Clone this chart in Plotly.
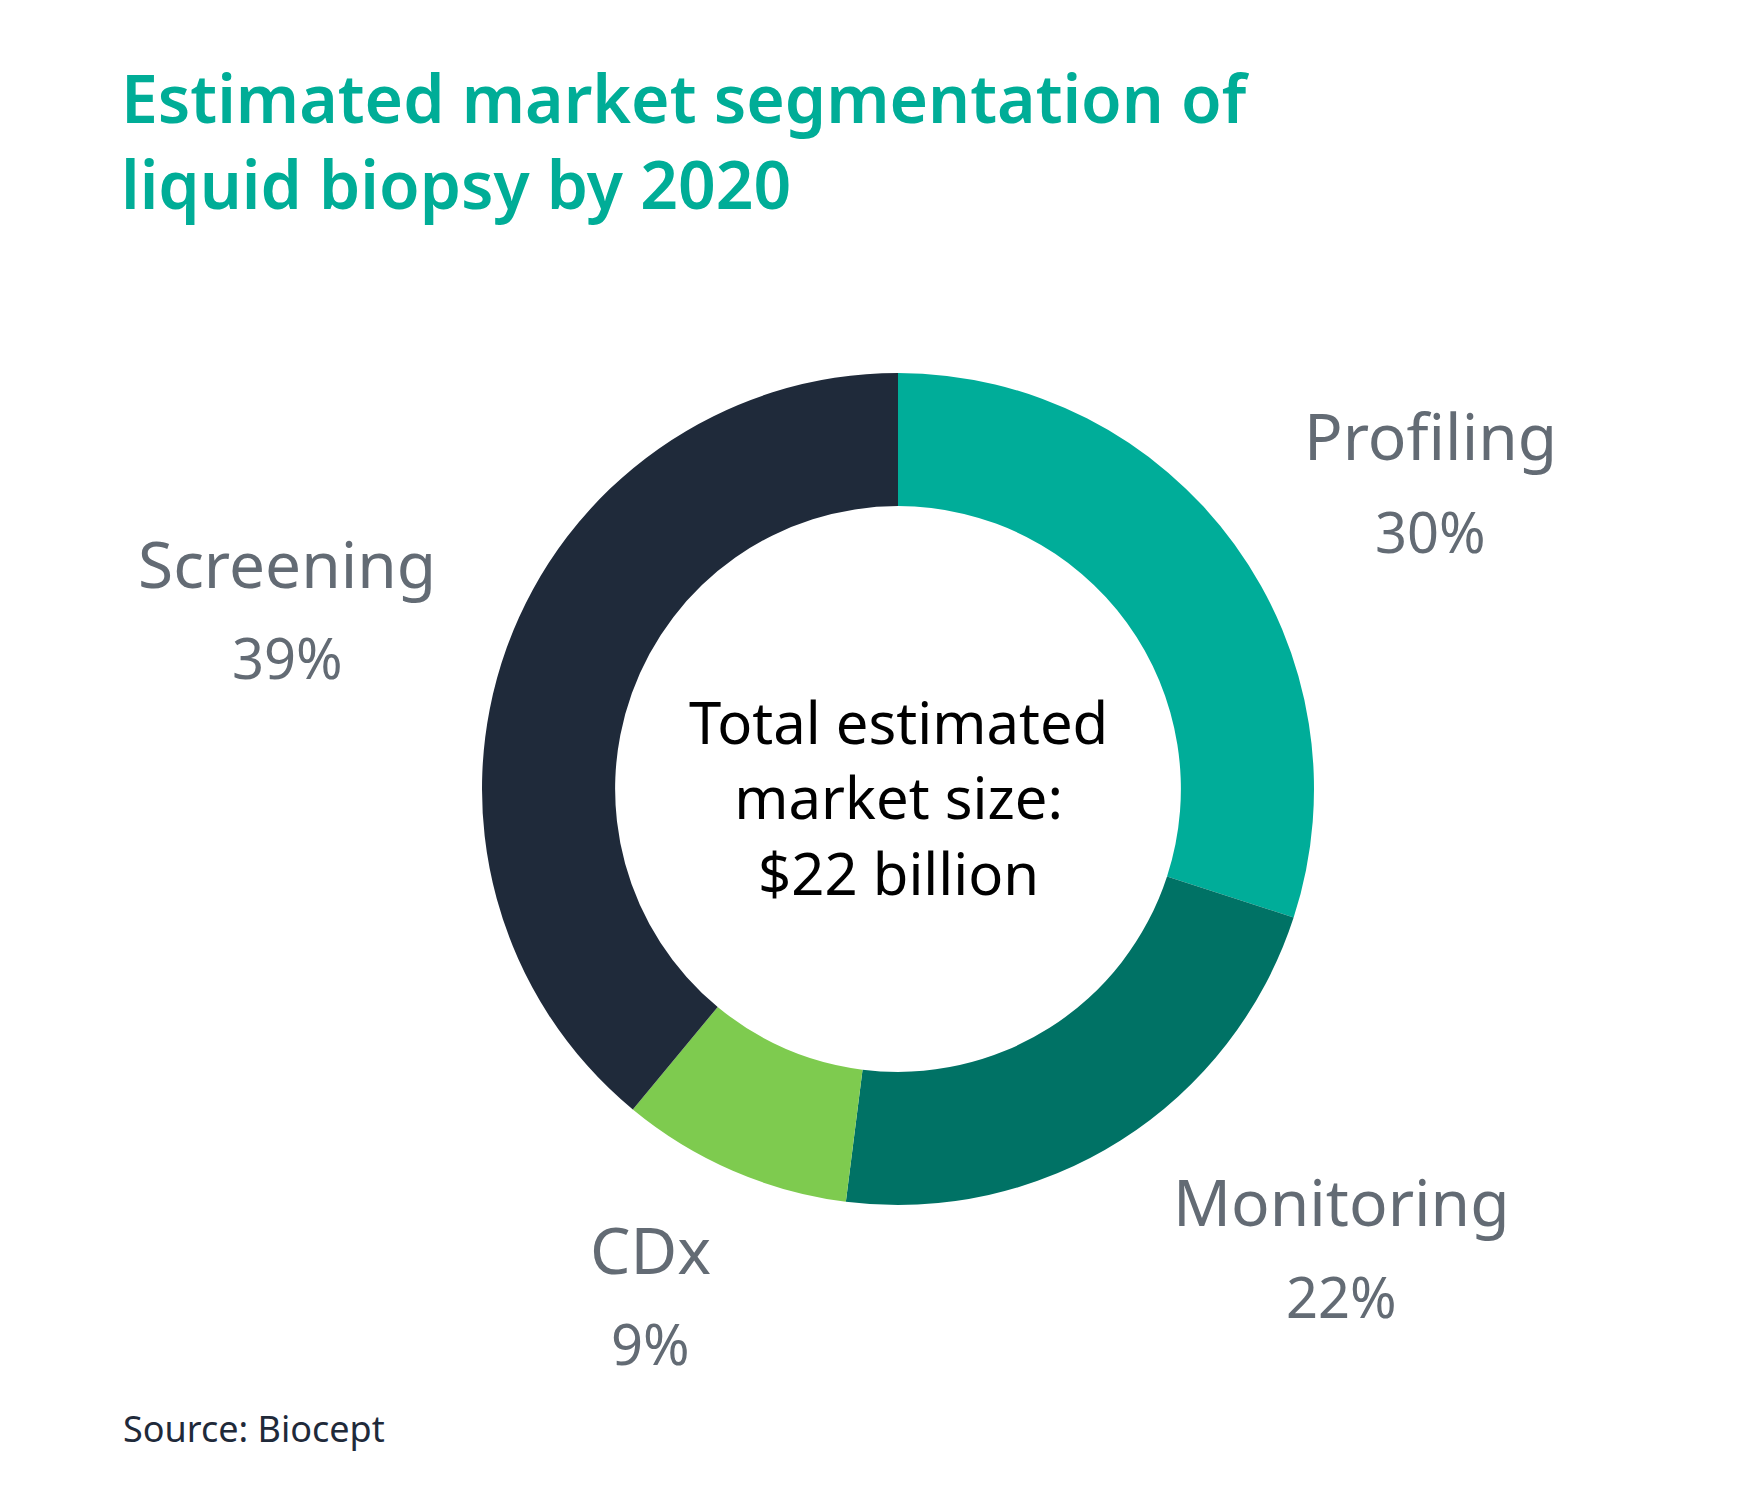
import plotly.graph_objects as go

W, H = 1755, 1498

segments = ["Profiling", "Monitoring", "CDx", "Screening"]
shares = [30, 22, 9, 39]
pct_labels = ["30%", "22%", "9%", "39%"]
colors = ["#00ad99", "#007265", "#7ecb4f", "#1f2a3a"]

title_text = "Estimated market segmentation of<br>liquid biopsy by 2020"
center_text = "Total estimated<br>market size:<br>$22 billion"
source_text = "Source: Biocept"

# label placement (pixels in the page) for each segment: name and percent
label_pos = {
    "Profiling": (1430, 436, 531),
    "Monitoring": (1341, 1201, 1296),
    "CDx": (650, 1249, 1343),
    "Screening": (287, 563, 657),
}

FONT = "Noto Sans"
GRAY = "#636b74"

cx, cy, R = 898, 789, 416

fig = go.Figure(
    go.Pie(
        labels=segments,
        values=shares,
        sort=False,
        direction="clockwise",
        rotation=0,
        hole=0.68,
        marker=dict(colors=colors, line=dict(width=0)),
        textinfo="none",
        hoverinfo="label+percent",
        showlegend=False,
        domain=dict(
            x=[(cx - R) / W, (cx + R) / W],
            y=[(H - cy - R) / H, (H - cy + R) / H],
        ),
    )
)

def px(x):
    return x / W

def py(y):
    return 1 - y / H

annotations = []
for name, pct in zip(segments, pct_labels):
    x, yn, yp = label_pos[name]
    annotations.append(dict(x=px(x), y=py(yn), xref="paper", yref="paper",
                            text=name, showarrow=False, xanchor="center", yanchor="middle",
                            font=dict(family=FONT, size=64, color=GRAY)))
    annotations.append(dict(x=px(x), y=py(yp), xref="paper", yref="paper",
                            text=pct, showarrow=False, xanchor="center", yanchor="middle",
                            font=dict(family=FONT, size=56, color=GRAY)))

annotations.append(dict(x=px(cx), y=py(cy + 8), xref="paper", yref="paper",
                        text=center_text, showarrow=False, xanchor="center", yanchor="middle",
                        font=dict(family=FONT, size=58, color="#000000")))

annotations.append(dict(x=px(121), y=py(1428), xref="paper", yref="paper",
                        text=source_text, showarrow=False, xanchor="left", yanchor="middle",
                        font=dict(family=FONT, size=36, color="#1f2a3a")))

fig.update_layout(
    width=W, height=H,
    margin=dict(l=0, r=0, t=0, b=0),
    paper_bgcolor="white",
    plot_bgcolor="white",
    title=dict(text=title_text, x=px(121), xanchor="left", xref="paper",
               y=py(123), yanchor="top", yref="paper",
               font=dict(family=FONT, size=66, color="#00ad97", weight=600)),
    annotations=annotations,
)

fig.write_html("out.html")
